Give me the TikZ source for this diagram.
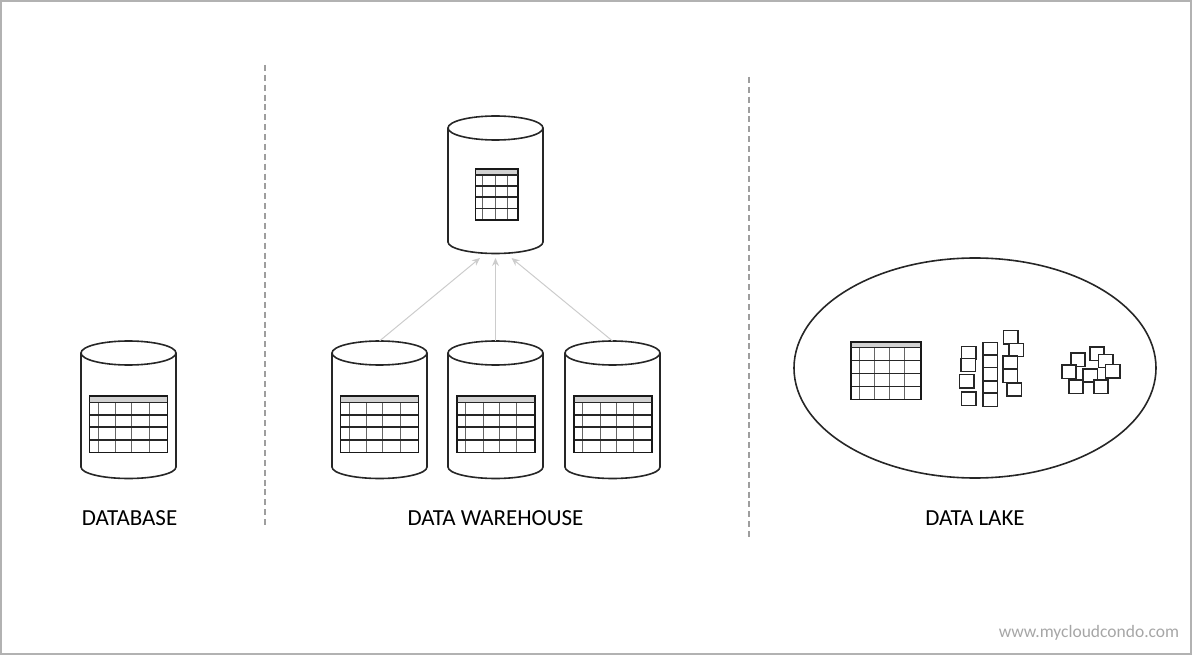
\documentclass[tikz,border=0pt]{standalone}
\usepackage{fontspec}
\setmainfont{Carlito}
\usetikzlibrary{arrows.meta}
\definecolor{framegray}{gray}{0.7}
\definecolor{headgray}{gray}{0.82}
\definecolor{feedgray}{gray}{0.8}
\tikzset{
	outline/.style={line width=1.6pt, color=black!85},
	divider/.style={line width=1.5pt, color=black!38, dash pattern=on 6pt off 3.87pt},
	feed/.style={line width=1pt, color=feedgray, -{Stealth[length=8pt, width=7pt]}},
	caption/.style={font=\fontsize{23}{27}\selectfont, color=black},
	chunk/.style={line width=1.6pt, color=black!85, fill=white},
}
% cylinder: name, centre x, top y of the lid, y where the sides stop
\def\dbcyl(#1)(#2,#3,#4){
	\draw[outline] (#2, #3+12) circle [x radius=47.5, y radius=12];
	\draw[outline] (#2-47.5, #3+12) -- (#2-47.5, #4) arc (180:0:47.5 and 11.5) -- (#2+47.5, #3+12);
	\coordinate (#1) at (#2, #3);
}
% table: corners, y under the header, rows, columns
\def\gridtable(#1,#2)(#3,#4)(#5)(#6)(#7){
	\draw[line width=0.8pt, fill=headgray] (#1, #2) rectangle (#3, #5);
	\foreach \colx in {#7} {\draw[line width=1pt, color=black!60] (\colx, #5) -- (\colx, #4);}
	\foreach \rowy in {#6} {\draw[line width=1.3pt, color=black!85] (#1, \rowy) -- (#3, \rowy);}
	\draw[line width=1.6pt, color=black!90] (#1, #2) rectangle (#3, #4);
	\draw[line width=1.2pt, color=black!85] (#1, #5) -- (#3, #5);
}
\begin{document}
\begin{tikzpicture}[x=1pt, y=-1pt]
	%%%%% START %%%%%
	\useasboundingbox (0, 0) rectangle (1200, 655);
	\draw[line width=1.6pt, color=framegray] (1, 1) rectangle (1191, 654);

	\draw[divider] (265, 65) -- (265, 525);
	\draw[divider] (749, 77) -- (749, 537);

	% database
	\dbcyl(dbTop)(128.5,341,467);
	\gridtable(89.3,396)(167.3,452.3)(402.5)(415,427,440)(98.3,115.7,131.7,149.3);
	\node[caption] (dbLabel) at (129.5, 518) {DATABASE};

	% warehouse
	\dbcyl(whTop)(495.5,116,242);
	\gridtable(475.3,169)(517.7,220)(175)(186,197,208.3)(482.3,495.3,507);

	\dbcyl(srcA)(379.5,341,467);
	\gridtable(340.3,396)(418.3,452.3)(402.5)(415,427,440)(349.3,366.7,382.7,400.3);
	\dbcyl(srcB)(495.5,341,467);
	\gridtable(456.8,396)(534.8,452.3)(402.5)(415,427,440)(465.8,483.2,499.2,516.8);
	\dbcyl(srcC)(612.5,341,467);
	\gridtable(573.8,396)(651.8,452.3)(402.5)(415,427,440)(582.8,600.2,616.2,633.8);

	\coordinate (inA) at (480, 258);
	\coordinate (inB) at (495.5, 258);
	\coordinate (inC) at (511.5, 258);
	\draw[feed] (srcA) -- (inA);
	\draw[feed] (srcB) -- (inB);
	\draw[feed] (srcC) -- (inC);
	\node[caption] (whLabel) at (495.5, 518) {DATA WAREHOUSE};

	% lake
	\draw[outline] (975, 368) circle [x radius=181, y radius=110];
	\gridtable(851,341.7)(920.7,399.3)(347.5)(360.7,373.3,386.7)(859.3,874.7,889,904.7);

	\foreach \spotx/\spoty in {
		968.8/353, 968.2/365, 966.5/381.2, 968.7/398.8,
		990.3/349, 990.3/361.5, 990.3/374, 990.3/387.5, 990.3/399.8,
		1010.5/337.2, 1016.3/350, 1010.3/362.8, 1010.3/375.7, 1014.3/389.5,
		1078/359.8, 1097/353.8, 1105.7/361, 1112.7/371.2, 1069/371.7, 1090.2/375.3, 1076/386.7, 1101/386.8
	} {
		\draw[chunk] (\spotx-7.2, \spoty-6.6) rectangle (\spotx+7.2, \spoty+6.6);
	}
	\node[caption] (lakeLabel) at (975, 518) {DATA LAKE};

	\node[font=\fontsize{17.5}{21}\selectfont, color=black!35] (siteMark) at (1089, 633) {www.mycloudcondo.com};
	%%%%% END %%%%%
\end{tikzpicture}
\end{document}
